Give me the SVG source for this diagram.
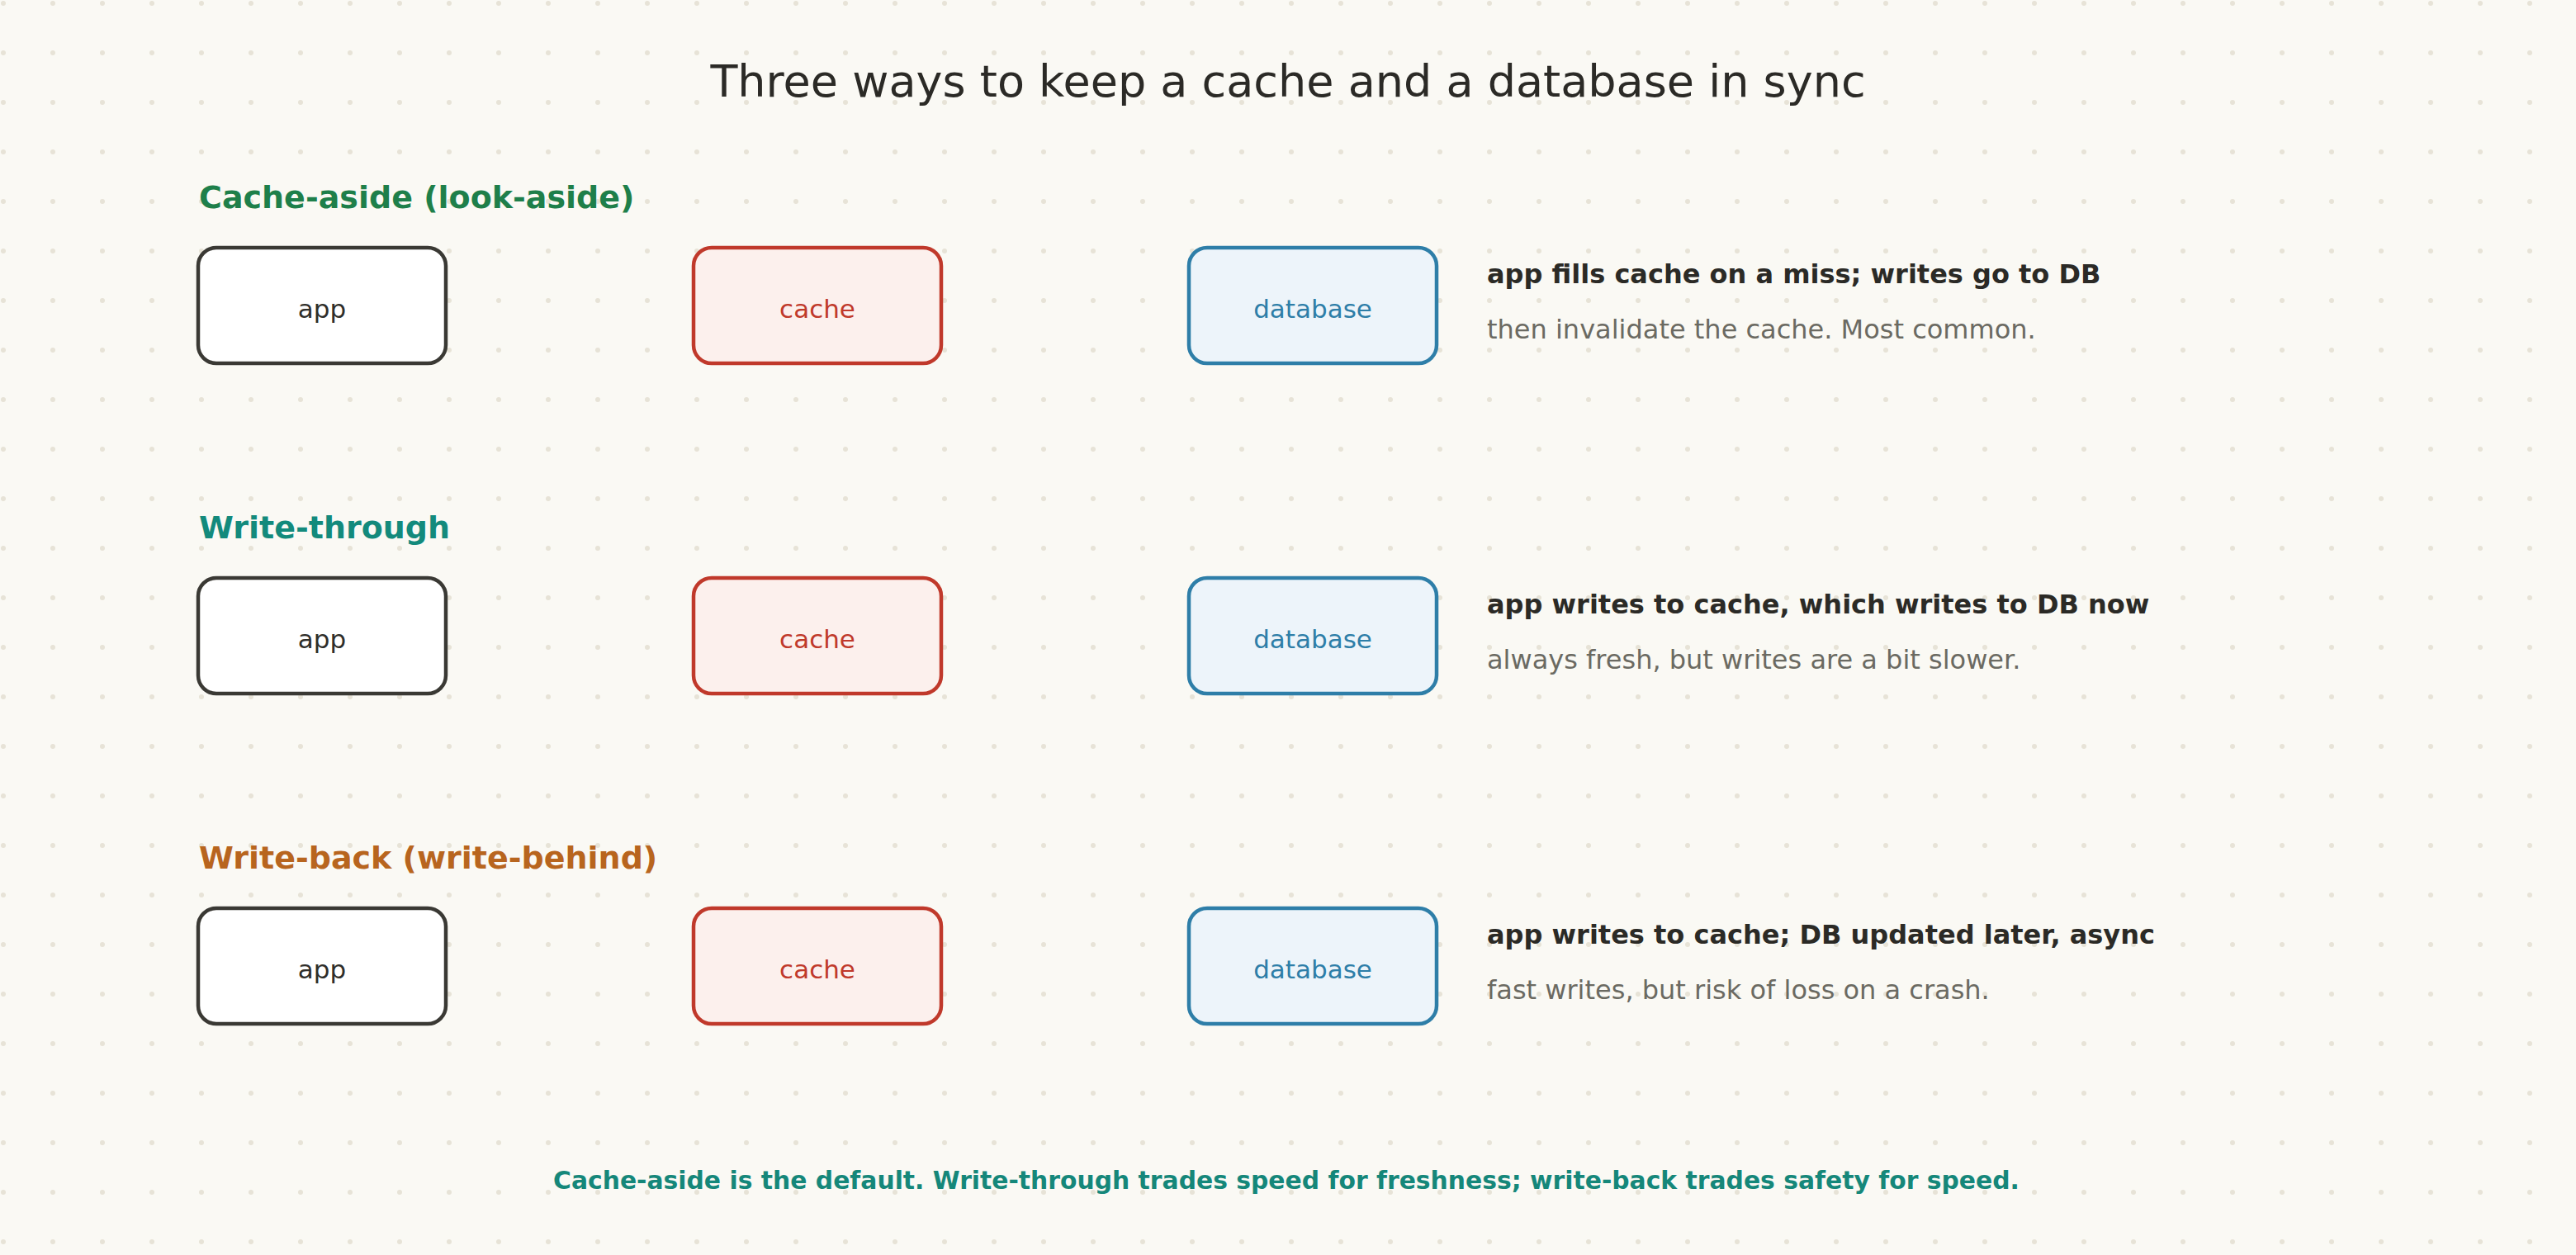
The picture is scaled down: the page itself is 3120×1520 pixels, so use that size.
<svg xmlns="http://www.w3.org/2000/svg" width="3120" height="1520" viewBox="0 0 3120 1520">
<defs>
<pattern id="dots" x="0" y="0" width="60" height="60" patternUnits="userSpaceOnUse">
<circle cx="4" cy="4" r="3" fill="#e7e3d7"/>
</pattern>
<style>
text{font-family:"DejaVu Sans","Noto Sans",sans-serif;}
.title{font-size:54px;fill:#2b2a26;text-anchor:middle;}
.sec{font-size:38px;font-weight:bold;}
.d1{font-size:32px;font-weight:bold;fill:#2b2a26;}
.d2{font-size:32px;fill:#6b6a62;}
.foot{font-size:29.8px;font-weight:bold;fill:#15877a;text-anchor:middle;}
.box{stroke-width:4.5;}
.app rect{fill:#ffffff;stroke:#3a3934;}
.app text{fill:#2f2e2a;}
.cache rect{fill:#fcf0ed;stroke:#c0392b;}
.cache text{fill:#c0392b;}
.db rect{fill:#edf4fa;stroke:#2e7ea8;}
.db text{fill:#2e7ea8;}
.node text{font-size:31px;text-anchor:middle;}
</style>
</defs>
<rect width="3120" height="1520" fill="#faf9f4"/>
<rect width="3120" height="1520" fill="url(#dots)"/>

<text class="title" x="1560" y="117">Three ways to keep a cache and a database in sync</text>

<text class="sec" x="241" y="252" fill="#1e7f4a">Cache-aside (look-aside)</text>
<text class="sec" x="241" y="652" fill="#138a7c">Write-through</text>
<text class="sec" x="241" y="1052" fill="#b8651e">Write-back (write-behind)</text>

<g id="row1-app" class="node app"><rect class="box" x="240" y="300" width="300" height="140" rx="22"/><text x="390" y="385">app</text></g>
<g id="row1-cache" class="node cache"><rect class="box" x="840" y="300" width="300" height="140" rx="22"/><text x="990" y="385">cache</text></g>
<g id="row1-db" class="node db"><rect class="box" x="1440" y="300" width="300" height="140" rx="22"/><text x="1590" y="385">database</text></g>

<g id="row2-app" class="node app"><rect class="box" x="240" y="700" width="300" height="140" rx="22"/><text x="390" y="785">app</text></g>
<g id="row2-cache" class="node cache"><rect class="box" x="840" y="700" width="300" height="140" rx="22"/><text x="990" y="785">cache</text></g>
<g id="row2-db" class="node db"><rect class="box" x="1440" y="700" width="300" height="140" rx="22"/><text x="1590" y="785">database</text></g>

<g id="row3-app" class="node app"><rect class="box" x="240" y="1100" width="300" height="140" rx="22"/><text x="390" y="1185">app</text></g>
<g id="row3-cache" class="node cache"><rect class="box" x="840" y="1100" width="300" height="140" rx="22"/><text x="990" y="1185">cache</text></g>
<g id="row3-db" class="node db"><rect class="box" x="1440" y="1100" width="300" height="140" rx="22"/><text x="1590" y="1185">database</text></g>

<g id="connectors"></g>

<g id="notes">
<text class="d1" x="1801" y="343">app fills cache on a miss; writes go to DB</text>
<text class="d2" x="1801" y="410">then invalidate the cache. Most common.</text>
<text class="d1" x="1801" y="743">app writes to cache, which writes to DB now</text>
<text class="d2" x="1801" y="810">always fresh, but writes are a bit slower.</text>
<text class="d1" x="1801" y="1143">app writes to cache; DB updated later, async</text>
<text class="d2" x="1801" y="1210">fast writes, but risk of loss on a crash.</text>
</g>

<text class="foot" x="1558" y="1440">Cache-aside is the default. Write-through trades speed for freshness; write-back trades safety for speed.</text>
</svg>
